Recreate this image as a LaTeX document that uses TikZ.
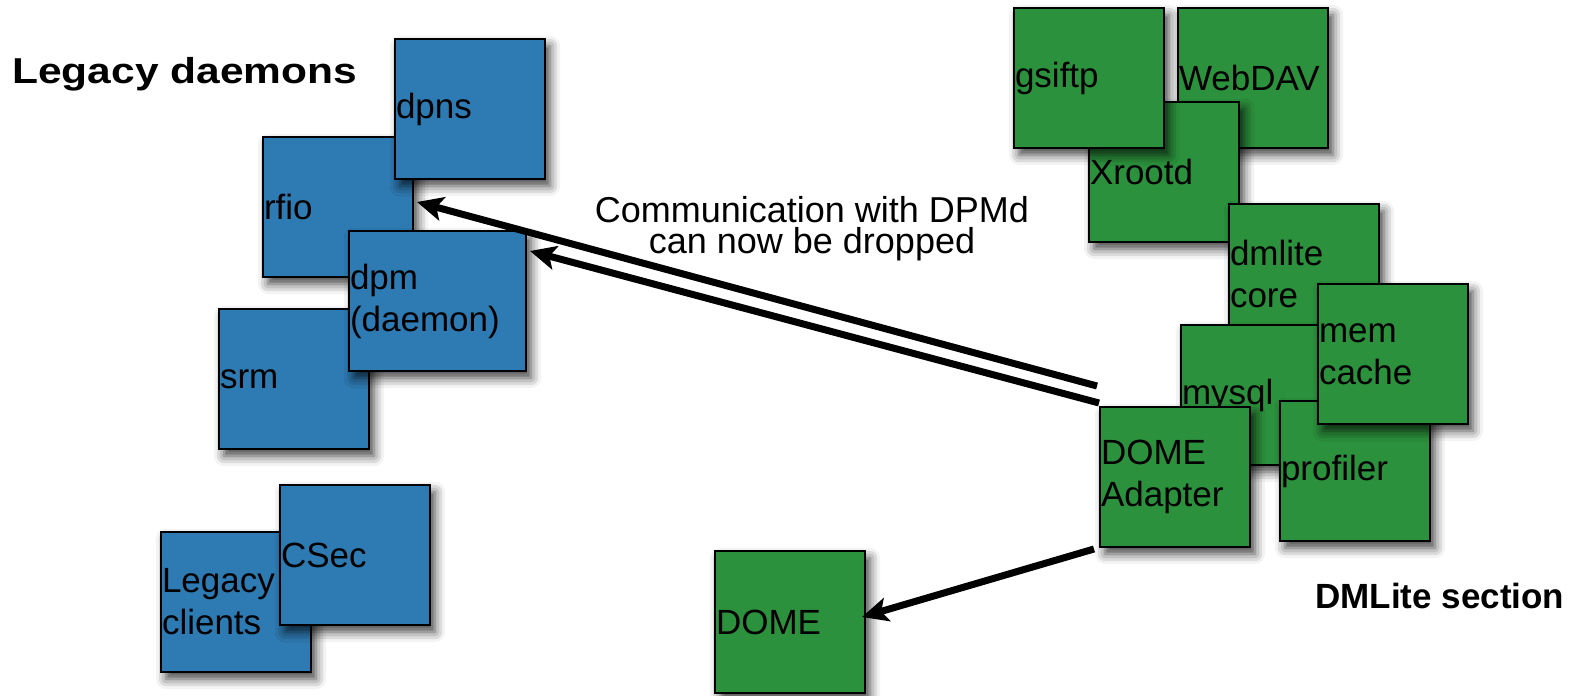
\documentclass[tikz,border=0pt]{standalone}
\usepackage{fontspec}
\setmainfont{Liberation Sans}
\usetikzlibrary{arrows.meta,shadows.blur}
\definecolor{legacyblue}{RGB}{46,122,178}
\definecolor{dmlitegreen}{RGB}{44,145,60}
\tikzset{
  daemon/.style={draw=black, line width=1pt, fill=legacyblue, anchor=north west,
    text width=74pt, minimum height=70pt, inner xsep=0.5pt, inner ysep=0pt, align=left,
    font=\fontsize{17.5pt}{21pt}\selectfont,
    blur shadow={shadow xshift=2.5pt, shadow yshift=-3.5pt, shadow blur radius=5pt, shadow opacity=75}},
  plugin/.style={daemon, fill=dmlitegreen},
  wide/.style={text width=87.5pt},
  flow/.style={line width=3.5pt, -{Stealth[length=13pt, width=12pt, inset=3pt]}}
}
\begin{document}
\begin{tikzpicture}[x=0.5pt, y=-0.5pt]
  \useasboundingbox (0,0) rectangle (1582,695);

  \node[anchor=base west, inner sep=0pt, font=\fontsize{18pt}{21pt}\selectfont\bfseries] (legacy) at (12,84) {\scalebox{1.18}[1]{Legacy daemons}};
  \node[anchor=base west, inner sep=0pt, font=\fontsize{17.5pt}{21pt}\selectfont\bfseries] (section) at (1315,608) {DMLite section};

  \node[daemon] (rfio) at (262,136) {rfio};
  \node[daemon] (dpns) at (394,38) {dpns};
  \node[daemon] (srm) at (218,308) {srm};
  \node[daemon, wide] (dpm) at (348,230) {dpm\\(daemon)};
  \node[daemon] (clients) at (160,531) {Legacy\\clients};
  \node[daemon] (csec) at (279,484) {CSec};

  \node[plugin, minimum height=71pt] (dome) at (714,550) {DOME};
  \node[plugin] (webdav) at (1177,7) {WebDAV};
  \node[plugin] (xrootd) at (1088,101) {Xrootd};
  \node[plugin] (gsiftp) at (1013,7) {gsiftp};
  \node[plugin] (dmlite) at (1228,203) {dmlite\\core};
  \node[plugin] (mysql) at (1180,324) {mysql};
  \node[plugin] (profiler) at (1279,400) {profiler};
  \node[plugin] (memcache) at (1317,283) {mem\\cache};
  \node[plugin] (adapter) at (1099,406) {DOME\\Adapter};

  \node[align=center, font=\fontsize{18pt}{15.5pt}\selectfont] (note) at (812,229) {Communication with DPMd\\can now be dropped};

  \draw[flow] ([shift={(-2,-20)}]adapter.north west) -- ([shift={(3,-5)}]rfio.east);
  \draw[flow] ([shift={(0,-3)}]adapter.north west) -- ([shift={(3,21)}]dpm.north east);
  \draw[flow] ([shift={(-5,1)}]adapter.south west) -- ([shift={(-4,-5)}]dome.east);
\end{tikzpicture}
\end{document}
